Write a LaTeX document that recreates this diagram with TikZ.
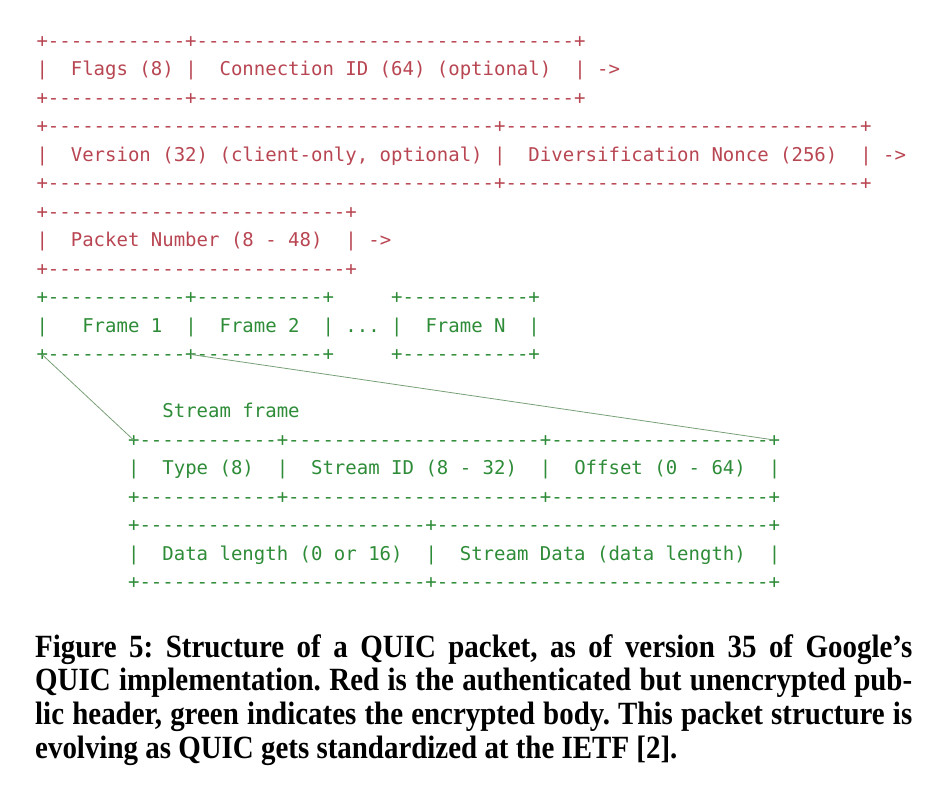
\documentclass[tikz,border=0pt]{standalone}
\usepackage{fontspec}
\setmainfont{Liberation Serif}
\setmonofont{DejaVu Sans Mono}
\definecolor{hdrred}{RGB}{184,70,82}
\definecolor{bodygreen}{RGB}{46,140,56}
\definecolor{linkgreen}{RGB}{120,160,120}
\newcommand\dashes[1]{\foreach\n in {1,...,#1}{-}}
\tikzset{
  cell/.style={anchor=base west,inner sep=0pt,font=\ttfamily\fontsize{14.25pt}{16pt}\selectfont},
  hdr/.style={cell,text=hdrred},
  body/.style={cell,text=bodygreen},
  link/.style={draw=linkgreen,line width=0.6pt},
}
\begin{document}
\begin{tikzpicture}[x=8.58pt,y=21.375pt]
\useasboundingbox (-27.2pt,35.25pt) rectangle (677pt,-561.75pt);
% public header
\node[hdr] (flagsTop) at (0,0) {+\dashes{12}+\dashes{33}+};
\foreach \c in {0,13,47} \node[hdr] (flagsBar\c) at (\c,-1) {|};
\node[hdr] (flags) at (3,-1) {Flags (8)};
\node[hdr] (connId) at (16,-1) {Connection ID (64) (optional)};
\node[hdr] (flagsNext) at (49,-1) {->};
\node[hdr] (flagsBot) at (0,-2) {+\dashes{12}+\dashes{33}+};
\node[hdr] (versionTop) at (0,-3) {+\dashes{39}+\dashes{31}+};
\foreach \c in {0,40,72} \node[hdr] (versionBar\c) at (\c,-4) {|};
\node[hdr] (version) at (3,-4) {Version (32) (client-only, optional)};
\node[hdr] (nonce) at (43,-4) {Diversification Nonce (256)};
\node[hdr] (versionNext) at (74,-4) {->};
\node[hdr] (versionBot) at (0,-5) {+\dashes{39}+\dashes{31}+};
\node[hdr] (pktTop) at (0,-6) {+\dashes{26}+};
\foreach \c in {0,27} \node[hdr] (pktBar\c) at (\c,-7) {|};
\node[hdr] (pktNum) at (3,-7) {Packet Number (8 - 48)};
\node[hdr] (pktNext) at (29,-7) {->};
\node[hdr] (pktBot) at (0,-8) {+\dashes{26}+};
% encrypted body
\node[body] (framesTop) at (0,-9) {+\dashes{12}+\dashes{11}+};
\node[body] (frameNTop) at (31,-9) {+\dashes{11}+};
\foreach \c in {0,13,25,31,43} \node[body] (framesBar\c) at (\c,-10) {|};
\node[body] (frame1) at (4,-10) {Frame 1};
\node[body] (frame2) at (16,-10) {Frame 2};
\node[body] (frameDots) at (27,-10) {...};
\node[body] (frameN) at (34,-10) {Frame N};
\node[body] (framesBot) at (0,-11) {+\dashes{12}+\dashes{11}+};
\node[body] (frameNBot) at (31,-11) {+\dashes{11}+};
\node[body] (streamLabel) at (11,-13) {Stream frame};
\node[body] (streamTop) at (8,-14) {+\dashes{12}+\dashes{22}+\dashes{19}+};
\foreach \c in {8,21,44,64} \node[body] (streamBar\c) at (\c,-15) {|};
\node[body] (type) at (11,-15) {Type (8)};
\node[body] (streamId) at (24,-15) {Stream ID (8 - 32)};
\node[body] (offset) at (47,-15) {Offset (0 - 64)};
\node[body] (streamMid) at (8,-16) {+\dashes{12}+\dashes{22}+\dashes{19}+};
\node[body] (dataTop) at (8,-17) {+\dashes{25}+\dashes{29}+};
\foreach \c in {8,34,64} \node[body] (dataBar\c) at (\c,-18) {|};
\node[body] (dataLen) at (11,-18) {Data length (0 or 16)};
\node[body] (streamData) at (37,-18) {Stream Data (data length)};
\node[body] (dataBot) at (8,-19) {+\dashes{25}+\dashes{29}+};
\coordinate (frame1SW) at (0.5,-10.787);
\coordinate (frame1SE) at (13.5,-10.787);
\coordinate (streamNW) at (8.5,-13.787);
\coordinate (streamNE) at (64.5,-13.787);
\draw[link] (frame1SW) -- (streamNW);
\draw[link] (frame1SE) -- (streamNE);
\node[anchor=base west,inner sep=0pt,text width=657.75pt,align=justify,
  transform shape,yscale=1.12,
  font=\bfseries\fontsize{21.7pt}{22.6pt}\selectfont\frenchspacing] (caption) at (-1pt,-457.5pt)
  {Figure 5: Structure of a QUIC packet, as of version 35 of Google's\linebreak
   QUIC implementation. Red is the authenticated but unencrypted pub-\linebreak
   lic header, green indicates the encrypted body. This packet structure is\linebreak
   evolving as QUIC gets standardized at the IETF [2].};
\end{tikzpicture}
\end{document}
